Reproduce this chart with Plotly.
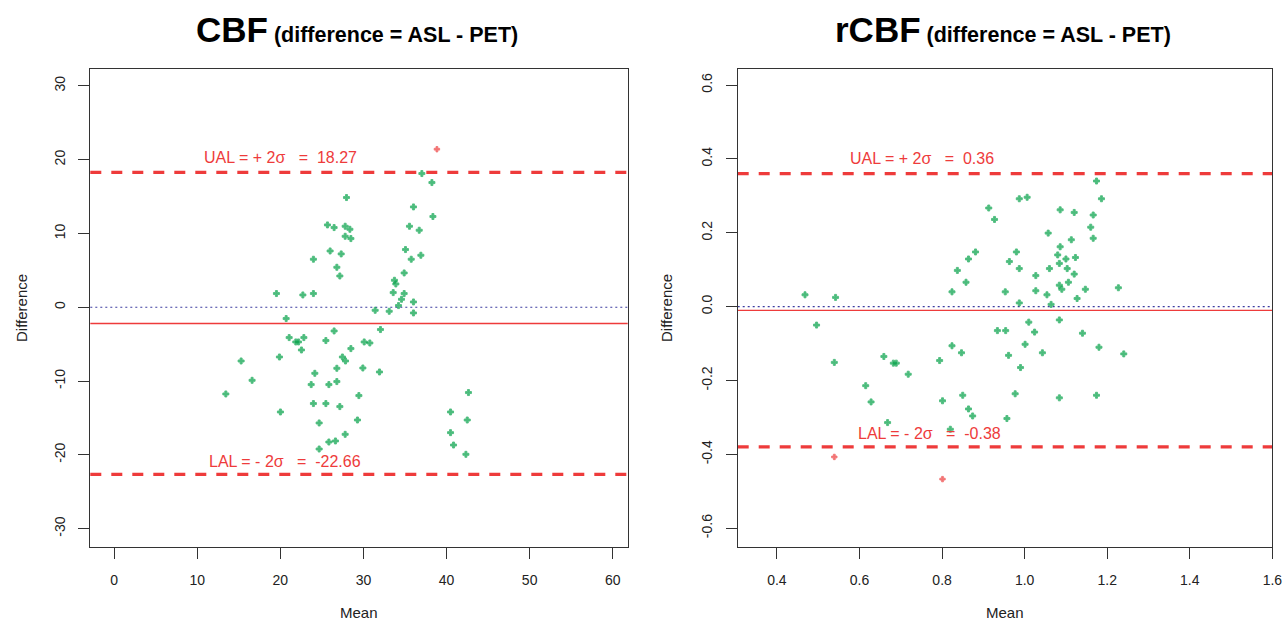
import plotly.graph_objects as go

# ---------------- data ----------------
cbf_mean = [38.84, 37.03, 38.24, 27.96, 36.02, 38.36, 25.67, 26.47, 27.80, 28.37, 35.54, 36.71,
            27.80, 28.49, 25.99, 27.32, 35.06, 35.75, 36.91, 23.98, 26.80, 27.16, 34.90, 33.73,
            33.90, 33.58, 34.90, 34.58, 36.02, 34.22, 19.53, 22.71, 23.98, 31.41, 33.10, 36.02,
            20.70, 26.47, 32.05, 21.06, 21.86, 22.18, 22.83, 22.54, 25.48, 30.09, 30.77, 28.49,
            15.28, 19.89, 27.47, 27.84, 26.80, 29.93, 24.15, 31.93, 16.60, 23.71, 25.84, 26.80,
            13.44, 29.45, 23.98, 25.48, 27.16, 20.01, 29.28, 24.67, 27.80, 25.84, 26.63, 24.67,
            42.64, 40.48, 42.49, 40.48, 40.84, 42.33]
cbf_diff = [21.42, 18.12, 16.90, 14.87, 13.60, 12.30, 11.16, 10.80, 10.98, 10.57, 10.98, 10.44,
            9.62, 9.31, 7.63, 7.23, 7.82, 6.51, 7.05, 6.51, 5.42, 4.24, 4.65, 3.66,
            3.16, 1.99, 1.86, 1.08, 0.72, 0.23, 1.86, 1.67, 1.86, -0.41, -0.54, -0.77,
            -1.53, -3.21, -3.02, -4.11, -4.70, -4.70, -4.11, -5.79, -4.51, -4.70, -4.84, -5.60,
            -7.28, -6.74, -6.74, -7.28, -8.27, -8.23, -8.95, -8.77, -9.90, -10.48, -10.48, -10.07,
            -11.75, -11.97, -13.05, -13.05, -13.46, -14.19, -15.28, -15.68, -17.22, -18.26, -18.12, -19.21,
            -11.56, -14.19, -15.28, -16.99, -18.67, -19.93]

rcbf_mean = [0.468, 0.542, 0.824, 0.858, 0.837, 0.864, 0.881, 0.913, 0.927, 0.987, 1.006, 0.953,
             0.963, 0.980, 0.987, 0.987, 1.174, 1.186, 1.086, 1.120, 1.166, 1.160, 1.166, 1.057,
             1.113, 1.086, 1.080, 1.100, 1.123, 1.084, 1.060, 1.103, 1.027, 1.120, 1.106, 1.084,
             1.090, 1.027, 1.054, 1.147, 1.227, 1.127, 1.064, 1.084,
             0.496, 0.539, 0.659, 0.682, 0.689, 0.718, 0.615, 0.628, 0.668, 0.794, 0.824, 0.847,
             0.801, 0.850, 0.864, 0.874, 0.820, 0.934, 0.954, 0.961, 0.990, 1.001, 1.010, 0.977,
             0.957, 1.024, 1.140, 1.043, 1.180, 1.240, 1.084, 1.174, 0.539, 0.801]
rcbf_diff = [0.032, 0.025, 0.040, 0.066, 0.098, 0.129, 0.148, 0.267, 0.236, 0.292, 0.296, 0.040,
             0.122, 0.148, 0.103, 0.010, 0.340, 0.292, 0.262, 0.255, 0.248, 0.215, 0.185, 0.199,
             0.181, 0.162, 0.140, 0.129, 0.133, 0.117, 0.103, 0.103, 0.084, 0.088, 0.066, 0.058,
             0.047, 0.043, 0.032, 0.047, 0.051, 0.022, 0.006, -0.036,
             -0.050, -0.151, -0.135, -0.153, -0.153, -0.183, -0.214, -0.258, -0.314, -0.146, -0.106, -0.125,
             -0.255, -0.240, -0.277, -0.296, -0.332, -0.065, -0.065, -0.132, -0.165, -0.102, -0.042, -0.236,
             -0.303, -0.069, -0.072, -0.125, -0.110, -0.128, -0.247, -0.240, -0.407, -0.467]

cbf_ual, cbf_lal, cbf_bias = 18.27, -22.66, -2.2
rcbf_ual, rcbf_lal, rcbf_bias = 0.36, -0.38, -0.01

cbf_xticks = [0, 10, 20, 30, 40, 50, 60]
cbf_yticks = [-30, -20, -10, 0, 10, 20, 30]
rcbf_xticks = [0.4, 0.6, 0.8, 1.0, 1.2, 1.4, 1.6]
rcbf_yticks = [-0.6, -0.4, -0.2, 0.0, 0.2, 0.4, 0.6]

titles = ["CBF", "rCBF"]
subtitle = "(difference = ASL - PET)"

# ---------------- styling / layout ----------------
W, H = 1284, 626
FONT = "Liberation Sans, Arial, sans-serif"
RED = "#EE3B3B"
GREEN = "#00A046"
BLUE = "#3C3CA0"
FRAME_TOP, FRAME_BOT = 69.3, 546.7
LEFT_FRAME = (90.3, 627.7)
RIGHT_FRAME = (737.7, 1272.4)


def px_x(p):
    return p / W


def px_y(p):
    return 1 - p / H


fig = go.Figure()

panels = [
    dict(xa="x", ya="y", xname="xaxis", yname="yaxis", frame=LEFT_FRAME,
         mean=cbf_mean, diff=cbf_diff, ual=cbf_ual, lal=cbf_lal, bias=cbf_bias,
         xticks=cbf_xticks, yticks=cbf_yticks, xr=[-2.87, 61.8], yr=[-32.45, 32.25],
         fmt="{:.0f}", xfmt="{:d}", title=titles[0], title_cx=356.5,
         ual_pos=(20.0, 20.25), lal_pos=(20.6, -20.85), ylab_x=22),
    dict(xa="x2", ya="y2", xname="xaxis2", yname="yaxis2", frame=RIGHT_FRAME,
         mean=rcbf_mean, diff=rcbf_diff, ual=rcbf_ual, lal=rcbf_lal, bias=rcbf_bias,
         xticks=rcbf_xticks, yticks=rcbf_yticks, xr=[0.305, 1.6], yr=[-0.65, 0.6425],
         fmt="{:.1f}", xfmt="{:.1f}", title=titles[1], title_cx=1002.5,
         ual_pos=(0.752, 0.402), lal_pos=(0.769, -0.343), ylab_x=667),
]

annotations = []
shapes = []
for p in panels:
    xd = p["xa"] + " domain"
    # reference lines (drawn below markers)
    for lim in (p["ual"], p["lal"]):
        shapes.append(dict(type="line", xref=xd, yref=p["ya"], x0=0, x1=1, y0=lim, y1=lim,
                           layer="below",
                           line=dict(color=RED, width=3.2, dash="11px,10px")))
    shapes.append(dict(type="line", xref=xd, yref=p["ya"], x0=0, x1=1, y0=0, y1=0,
                       layer="below",
                       line=dict(color=BLUE, width=1.2, dash="2px,3px")))
    shapes.append(dict(type="line", xref=xd, yref=p["ya"], x0=0, x1=1, y0=p["bias"], y1=p["bias"],
                       layer="below",
                       line=dict(color=RED, width=1.3)))

    colors = [RED if (d > p["ual"] or d < p["lal"]) else GREEN for d in p["diff"]]
    sizes = [4.5 if c == RED else 5 for c in colors]
    fig.add_trace(go.Scatter(
        x=p["mean"], y=p["diff"], mode="markers", xaxis=p["xa"], yaxis=p["ya"],
        marker=dict(symbol="cross", size=sizes, color=colors,
                    line=dict(color=colors, width=0.9)),
        showlegend=False, hoverinfo="x+y"))

    dom_x = [px_x(p["frame"][0]), px_x(p["frame"][1])]
    dom_y = [px_y(FRAME_BOT), px_y(FRAME_TOP)]
    axis_common = dict(showline=True, mirror=True, linecolor="#333333", linewidth=1.3,
                       ticks="outside", ticklen=11, tickwidth=1.2, tickcolor="#333333",
                       showgrid=False, zeroline=False, automargin=False,
                       tickfont=dict(family=FONT, size=14, color="#222222"))
    fig.layout[p["xname"]] = dict(domain=dom_x, range=p["xr"], tickmode="array",
                                  tickvals=p["xticks"],
                                  ticktext=[p["xfmt"].format(v) for v in p["xticks"]],
                                  anchor=p["ya"], ticklabelstandoff=9, **axis_common)
    fig.layout[p["yname"]] = dict(domain=dom_y, range=p["yr"], tickmode="array",
                                  tickvals=p["yticks"],
                                  ticktext=[p["fmt"].format(v) for v in p["yticks"]],
                                  tickangle=-90, anchor=p["xa"], ticklabelstandoff=8,
                                  **axis_common)

    sp = "\u00a0"
    lim_fmt = "{:.2f}"
    annotations.append(dict(x=p["ual_pos"][0], y=p["ual_pos"][1], xref=p["xa"], yref=p["ya"],
                            text=f"UAL = + 2σ{sp*3}={sp*2}" + lim_fmt.format(p["ual"]),
                            showarrow=False, font=dict(family=FONT, size=16, color=RED)))
    annotations.append(dict(x=p["lal_pos"][0], y=p["lal_pos"][1], xref=p["xa"], yref=p["ya"],
                            text=f"LAL = - 2σ{sp*3}={sp*2}" + lim_fmt.format(p["lal"]),
                            showarrow=False, font=dict(family=FONT, size=16, color=RED)))

    cx = (p["frame"][0] + p["frame"][1]) / 2
    annotations.append(dict(x=px_x(p["title_cx"]), y=px_y(30), xref="paper", yref="paper",
                            xanchor="center", yanchor="middle", showarrow=False,
                            text=f"<b><span style='font-size:35px'>{p['title']}</span> {subtitle}</b>",
                            font=dict(family=FONT, size=21.5, color="#000000")))
    annotations.append(dict(x=px_x(cx), y=px_y(612), xref="paper", yref="paper",
                            xanchor="center", yanchor="middle", showarrow=False,
                            text="Mean", font=dict(family=FONT, size=15, color="#222222")))
    annotations.append(dict(x=px_x(p["ylab_x"]), y=px_y((FRAME_TOP + FRAME_BOT) / 2),
                            xref="paper", yref="paper", textangle=-90,
                            xanchor="center", yanchor="middle", showarrow=False,
                            text="Difference", font=dict(family=FONT, size=15, color="#222222")))

fig.update_layout(width=W, height=H, margin=dict(l=0, r=0, t=0, b=0),
                  paper_bgcolor="white", plot_bgcolor="white",
                  shapes=shapes, annotations=annotations,
                  font=dict(family=FONT))

fig.write_html("out.html", config={"displayModeBar": False},
               post_script="document.body.style.margin='0';")
